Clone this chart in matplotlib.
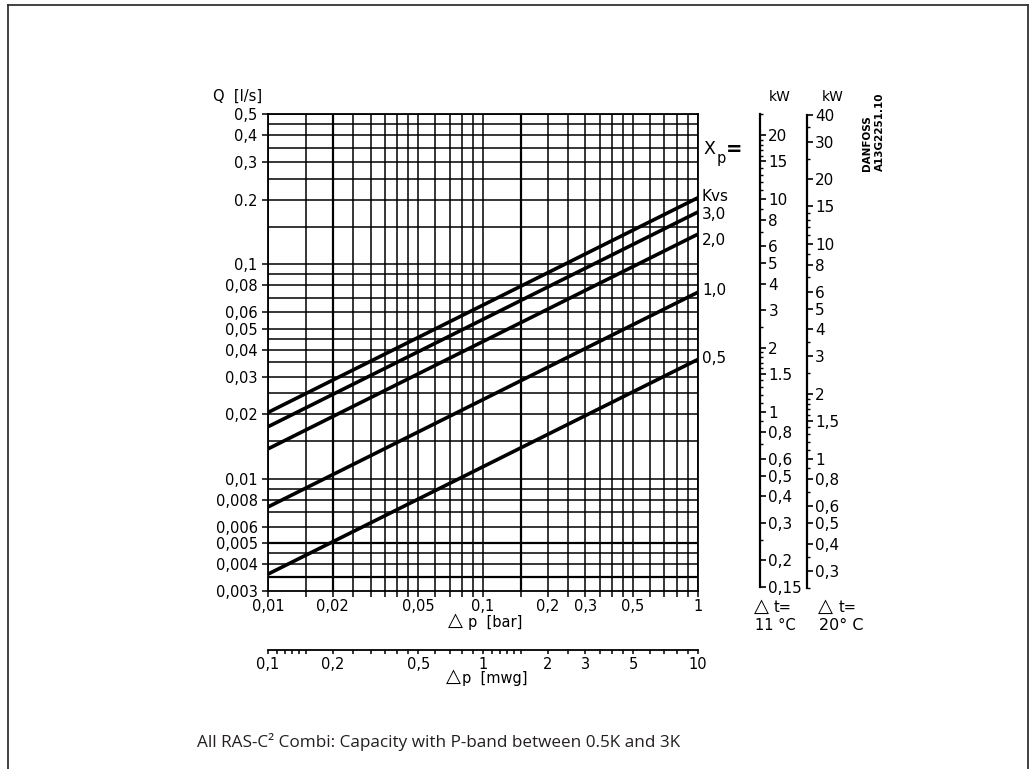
import matplotlib.pyplot as plt
import matplotlib.ticker as mticker
from matplotlib.lines import Line2D
import numpy as np

W, H = 1034, 769

# ---------------- data ----------------
dp_bar = [0.01, 1.0]
curve_names = ["Kvs", "3,0", "2,0", "1,0", "0,5"]
q_kvs = [0.0204, 0.204]
q_30 = [0.0175, 0.175]
q_20 = [0.0138, 0.138]
q_10 = [0.0074, 0.074]
q_05 = [0.0036, 0.036]
curves = [q_kvs, q_30, q_20, q_10, q_05]
label_nudge = [1.0, -2.0, -4.5, 1.0, 1.0]   # points, label vs. line end

x_grid = [0.01, 0.015, 0.02, 0.025, 0.03, 0.035, 0.04, 0.045, 0.05, 0.06, 0.07,
          0.08, 0.09, 0.1, 0.15, 0.2, 0.25, 0.3, 0.35, 0.4, 0.45, 0.5, 0.6, 0.7,
          0.8, 0.9, 1.0]
x_heavy = [0.02, 0.15]
x_label_vals = [0.01, 0.02, 0.05, 0.1, 0.2, 0.3, 0.5, 1.0]
x_label_text = ["0,01", "0,02", "0,05", "0,1", "0,2", "0,3", "0,5", "1"]

y_grid = [0.0035, 0.004, 0.0045, 0.005, 0.006, 0.007, 0.008, 0.009, 0.01, 0.015,
          0.02, 0.025, 0.03, 0.035, 0.04, 0.045, 0.05, 0.06, 0.07, 0.08, 0.09,
          0.1, 0.15, 0.2, 0.25, 0.3, 0.35, 0.4, 0.45, 0.5]
y_heavy = [0.0035, 0.005]
y_label_vals = [0.003, 0.004, 0.005, 0.006, 0.008, 0.01, 0.02, 0.03, 0.04, 0.05,
                0.06, 0.08, 0.1, 0.2, 0.3, 0.4, 0.5]
y_label_text = ["0,003", "0,004", "0,005", "0,006", "0,008", "0,01", "0,02",
                "0,03", "0,04", "0,05", "0,06", "0,08", "0,1", "0.2", "0,3",
                "0,4", "0,5"]

mwg_ticks = [0.1, 0.11, 0.12, 0.13, 0.14, 0.15, 0.2, 0.25, 0.3, 0.35, 0.4, 0.45,
             0.5, 0.6, 0.7, 0.8, 0.9, 1, 1.1, 1.2, 1.3, 1.4, 1.5, 2, 2.5, 3, 3.5,
             4, 4.5, 5, 6, 7, 8, 9, 10]
mwg_label_vals = [0.1, 0.2, 0.5, 1, 2, 3, 5, 10]
mwg_label_text = ["0,1", "0,2", "0,5", "1", "2", "3", "5", "10"]

# kW per l/s for the two temperature differences
kw_factor_11 = 47.7
kw_factor_20 = 80.5
kw11_range = (0.15, 25)
kw11_major = [0.15, 0.2, 0.3, 0.4, 0.5, 0.6, 0.8, 1, 1.5, 2, 3, 4, 5, 6, 8, 10, 15, 20]
kw11_text = ["0,15", "0,2", "0,3", "0,4", "0,5", "0,6", "0,8", "1", "1.5", "2", "3",
             "4", "5", "6", "8", "10", "15", "20"]
kw11_minor = [0.25, 0.7, 0.9, 1.1, 1.2, 1.3, 1.4, 1.6, 1.7, 1.8, 1.9, 2.5, 7, 9,
              11, 12, 13, 14, 16, 17, 18, 19, 25]
kw20_range = (0.25, 40)
kw20_major = [0.3, 0.4, 0.5, 0.6, 0.8, 1, 1.5, 2, 3, 4, 5, 6, 8, 10, 15, 20, 30, 40]
kw20_text = ["0,3", "0,4", "0,5", "0,6", "0,8", "1", "1,5", "2", "3", "4", "5", "6",
             "8", "10", "15", "20", "30", "40"]
kw20_minor = [0.25, 0.35, 0.7, 0.9, 1.1, 1.2, 1.3, 1.4, 1.6, 1.7, 1.8, 1.9, 2.5,
              3.5, 7, 9, 11, 12, 13, 14, 25, 35]

Q_MIN, Q_MAX = 0.003, 0.5
FONT = "DejaVu Sans"
TICK_FS = 10.5
TRI_FS = 14


def fx(px):
    return px / W


def fy(py):
    return 1 - py / H


def label(x, y, s, **kw):
    kw.setdefault("fontsize", TICK_FS)
    kw.setdefault("ha", "left")
    kw.setdefault("va", "center")
    return fig.text(fx(x), fy(y), s, **kw)


fig = plt.figure(figsize=(W / 100, H / 100), dpi=100)
plt.rcParams["font.family"] = FONT

# ---------------- main chart ----------------
left, right, top, bottom = 268, 697.7, 114.3, 591.1
ax = fig.add_axes([fx(left), fy(bottom), fx(right) - fx(left), fy(top) - fy(bottom)])
ax.set_xscale("log")
ax.set_yscale("log")
ax.set_xlim(0.01, 1.0)
ax.set_ylim(Q_MIN, Q_MAX)

for xv in x_grid:
    ax.axvline(xv, color="black", lw=1.6 if xv in x_heavy else 1.1, zorder=1)
for yv in y_grid:
    ax.axhline(yv, color="black", lw=1.6 if yv in y_heavy else 1.1, zorder=1)

for q in curves:
    ax.plot(dp_bar, q, color="black", lw=2.6, solid_capstyle="butt", zorder=3)

for name, q, dy in zip(curve_names, curves, label_nudge):
    ax.annotate(name, xy=(dp_bar[-1], q[-1]), xytext=(3, dy),
                textcoords="offset points", ha="left", va="center",
                fontsize=11, annotation_clip=False)

ax.xaxis.set_minor_locator(mticker.NullLocator())
ax.yaxis.set_minor_locator(mticker.NullLocator())
x_labels = [x_label_text[x_label_vals.index(v)] if v in x_label_vals else "" for v in x_grid]
ax.set_xticks(x_grid, x_labels)
ax.set_yticks(y_label_vals, y_label_text)
ax.tick_params(axis="x", length=4, width=1.1, pad=2, labelsize=TICK_FS)
ax.tick_params(axis="y", length=4.5, width=1.1, pad=3, labelsize=TICK_FS)
for sp in ax.spines.values():
    sp.set_linewidth(1.3)

label(448, 620, "△", fontsize=TRI_FS)
label(468, 622, "p  [bar]")
label(213, 96, "Q  [l/s]")

# ---------------- second x scale: mwg ----------------
ax_mwg = fig.add_axes([fx(left), fy(650), fx(right) - fx(left), 0.0001])
ax_mwg.set_xscale("log")
ax_mwg.set_xlim(0.1, 10)
ax_mwg.set_yticks([])
for side in ["left", "right", "top"]:
    ax_mwg.spines[side].set_visible(False)
ax_mwg.spines["bottom"].set_linewidth(1.3)
ax_mwg.xaxis.set_minor_locator(mticker.NullLocator())
mwg_labels = [mwg_label_text[mwg_label_vals.index(v)] if v in mwg_label_vals else ""
              for v in mwg_ticks]
ax_mwg.set_xticks(mwg_ticks, mwg_labels)
ax_mwg.tick_params(axis="x", direction="out", length=3, width=1.1, pad=2,
                   labelsize=TICK_FS)
ax_mwg.patch.set_visible(False)

label(446, 676, "△", fontsize=TRI_FS)
label(462, 678, "p  [mwg]")


# ---------------- kW scales ----------------
def kw_axis(xpos, factor, rng, major, text, minor):
    kax = fig.add_axes([fx(xpos) - 0.0001, fy(bottom), 0.0001, fy(top) - fy(bottom)])
    kax.set_yscale("log")
    kax.set_ylim(Q_MIN * factor, Q_MAX * factor)
    kax.set_xticks([])
    for side in ["left", "top", "bottom"]:
        kax.spines[side].set_visible(False)
    kax.spines["right"].set_linewidth(1.6)
    kax.spines["right"].set_bounds(*rng)
    kax.yaxis.tick_right()
    kax.set_yticks(major, text)
    kax.set_yticks(minor, minor=True)
    kax.yaxis.set_minor_formatter(mticker.NullFormatter())
    kax.tick_params(axis="y", which="major", direction="out", length=4, width=1.2,
                    pad=2, labelsize=11)
    kax.tick_params(axis="y", which="minor", direction="out", length=2.5, width=1.0)
    kax.patch.set_visible(False)
    return kax


kw_axis(760, kw_factor_11, kw11_range, kw11_major, kw11_text, kw11_minor)
kw_axis(806.7, kw_factor_20, kw20_range, kw20_major, kw20_text, kw20_minor)

label(780, 97, "kW", fontsize=10, ha="center")
label(833, 97, "kW", fontsize=10, ha="center")
label(754, 606, "△", fontsize=TRI_FS)
label(774, 608, "t=")
label(775, 625, "11 °C", ha="center")
label(818, 606, "△", fontsize=TRI_FS)
label(839, 608, "t=")
label(841, 625, "20° C", fontsize=11.5, ha="center")

# X_p= label
label(703, 149, "X", fontsize=12.5)
label(717, 158, "p")
label(726, 150, "=", fontsize=14, fontweight="bold")

# drawing id
label(867, 171, "DANFOSS", fontsize=7.5, fontweight="bold",
      rotation=90, rotation_mode="anchor")
label(880, 171, "A13G2251.10", fontsize=7.5, fontweight="bold",
      rotation=90, rotation_mode="anchor")

# caption
label(197, 742, "All RAS-C² Combi: Capacity with P-band between 0.5K and 3K",
      fontsize=12.3, family="Open Sans", color="#231f20")

# page frame
frame_kw = dict(color="#333333", lw=1.3, transform=fig.transFigure)
fig.add_artist(Line2D([fx(8), fx(1028)], [fy(5), fy(5)], **frame_kw))
fig.add_artist(Line2D([fx(8), fx(8)], [fy(5), fy(780)], **frame_kw))
fig.add_artist(Line2D([fx(1028), fx(1028)], [fy(5), fy(780)], **frame_kw))

fig.savefig("out.png", dpi=100)
